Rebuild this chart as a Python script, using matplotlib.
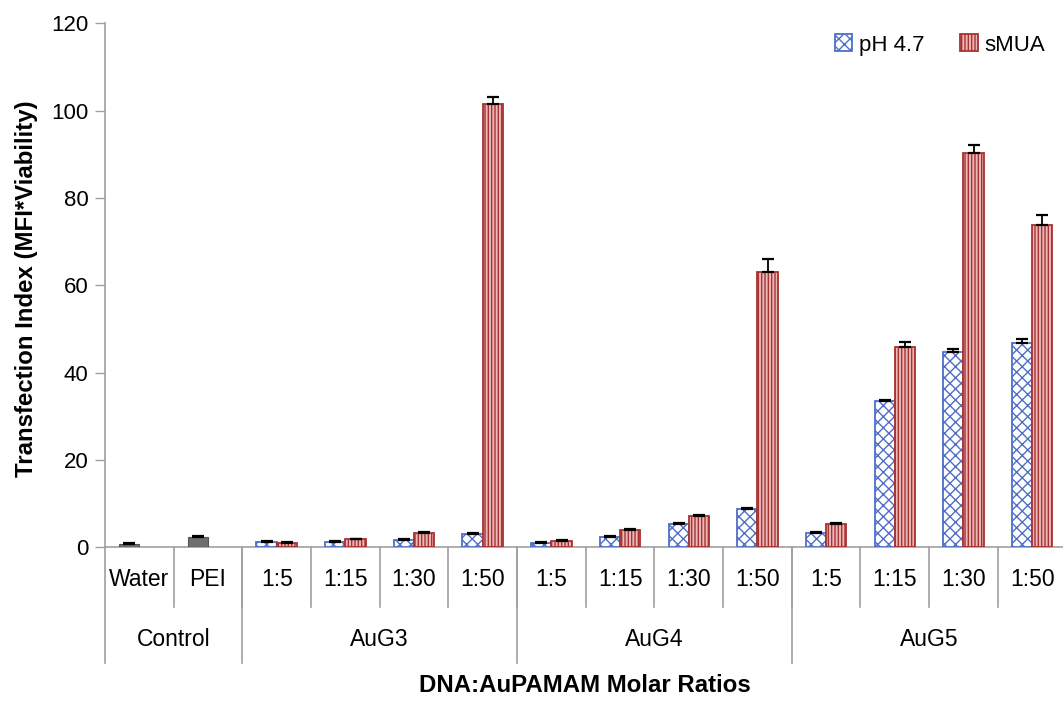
import matplotlib
matplotlib.use("Agg")
import matplotlib.pyplot as plt
from matplotlib.patches import Patch
import numpy as np

plt.rcParams['font.family'] = ['Liberation Sans', 'DejaVu Sans']
plt.rcParams['hatch.linewidth'] = 1.0

# ---- data ----
categories = ["Water", "PEI",
              "1:5", "1:15", "1:30", "1:50",
              "1:5", "1:15", "1:30", "1:50",
              "1:5", "1:15", "1:30", "1:50"]
groups = ["Control", "AuG3", "AuG4", "AuG5"]
group_sizes = [2, 4, 4, 4]

control_values = [0.8, 2.3]
control_err = [0.25, 0.25]

ph47_values = [1.3, 1.2, 1.7, 3.0,
               1.0, 2.3, 5.3, 8.8,
               3.2, 33.5, 44.8, 46.7]
ph47_err = [0.2, 0.2, 0.2, 0.3,
            0.2, 0.2, 0.2, 0.3,
            0.2, 0.3, 0.6, 1.1]

smua_values = [0.9, 1.8, 3.2, 101.6,
               1.5, 3.9, 7.2, 63.0,
               5.4, 45.9, 90.3, 73.9]
smua_err = [0.2, 0.2, 0.2, 1.5,
            0.2, 0.2, 0.2, 3.0,
            0.2, 1.2, 1.8, 2.1]

series_names = ["pH 4.7", "sMUA"]
y_ticks = [0, 20, 40, 60, 80, 100, 120]

# ---- styles ----
blue = "#4F6FC6"
red = "#A83232"
red_face = "#E9B8B8"
gray_bar = "#6E6E6E"
axis_gray = "#A0A0A0"

fig = plt.figure(figsize=(10.63, 7.02), dpi=100)
ax = fig.add_axes([105 / 1063, 1 - 547.3 / 702, (1066.5 - 105) / 1063, (547.3 - 23.3) / 702])

n = len(categories)
x = np.arange(n)
w = 0.295

# control bars (left slot)
xc = x[:2] - w / 2
ax.bar(xc, control_values, width=w, color=gray_bar, edgecolor="#555555", linewidth=0.8, zorder=3)
ax.errorbar(xc, control_values, yerr=[np.zeros(2), control_err], fmt="none",
            ecolor="black", elinewidth=1.3, capsize=4, capthick=1.6, zorder=4)

xs = x[2:]
xb = xs - w / 2
xr = xs + w / 2
ax.bar(xb, ph47_values, width=w, facecolor="white", edgecolor=blue, hatch="xxx",
       linewidth=1.3, zorder=3)
ax.bar(xr, smua_values, width=w, facecolor=red_face, edgecolor=red, hatch="|||||",
       linewidth=1.3, zorder=3)
ax.errorbar(xb, ph47_values, yerr=[np.zeros(len(xb)), ph47_err], fmt="none",
            ecolor="black", elinewidth=1.3, capsize=4, capthick=1.6, zorder=4)
ax.errorbar(xr, smua_values, yerr=[np.zeros(len(xr)), smua_err], fmt="none",
            ecolor="black", elinewidth=1.3, capsize=4, capthick=1.6, zorder=4)

ax.set_xlim(-0.5, n - 0.5)
ax.set_ylim(0, 120)
ax.set_yticks(y_ticks)
ax.tick_params(axis="y", labelsize=16, length=7, width=1, color=axis_gray, pad=5)
ax.set_xticks([])
for s in ["top", "right"]:
    ax.spines[s].set_visible(False)
for s in ["left", "bottom"]:
    ax.spines[s].set_color(axis_gray)
    ax.spines[s].set_linewidth(1.2)

trans = ax.get_xaxis_transform()
# category labels
for i, lab in enumerate(categories):
    ax.text(i, -0.062, lab, transform=trans, ha="center", va="center", fontsize=16.5)
# inner separators
for k in range(1, n):
    ax.plot([k - 0.5, k - 0.5], [0, -0.113], transform=trans, color=axis_gray,
            linewidth=1.2, clip_on=False)
# group separators and labels
start = 0
bounds = [0]
for gs in group_sizes:
    start += gs
    bounds.append(start)
for b in bounds[:-1]:
    ax.plot([b - 0.5, b - 0.5], [0, -0.221], transform=trans, color=axis_gray,
            linewidth=1.2, clip_on=False)
for g, lab in enumerate(groups):
    c = (bounds[g] + bounds[g + 1] - 1) / 2
    ax.text(c, -0.176, lab, transform=trans, ha="center", va="center", fontsize=16.5)

fig.text(585 / 1063, 1 - 686 / 702, "DNA:AuPAMAM Molar Ratios", ha="center", va="center",
         fontsize=17.3, fontweight="bold")
fig.text(27 / 1063, 1 - 289 / 702, "Transfection Index (MFI*Viability)", ha="center",
         va="center", rotation=90, fontsize=17.3, fontweight="bold")

handles = [Patch(facecolor="white", edgecolor=blue, hatch="xxx", linewidth=1.3),
           Patch(facecolor=red_face, edgecolor=red, hatch="|||||", linewidth=1.3)]
leg = fig.legend(handles, series_names, loc="center", bbox_to_anchor=(940 / 1063, 1 - 45 / 702),
                 ncol=2, frameon=False, fontsize=16, handlelength=0.8, handleheight=0.8,
                 handletextpad=0.3, columnspacing=1.6)

fig.savefig("out.png", dpi=100)
